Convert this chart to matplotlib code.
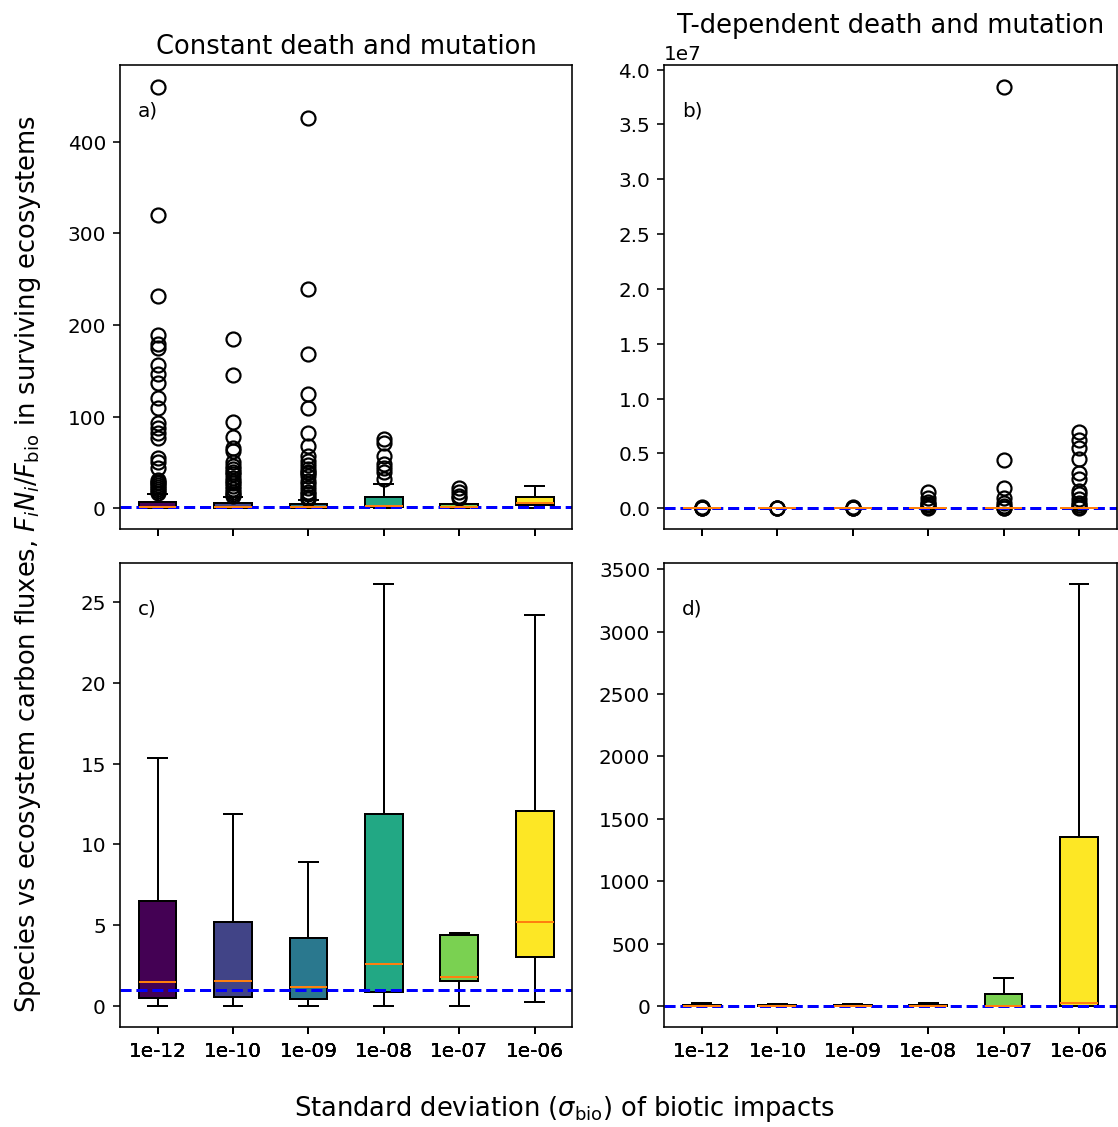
import numpy as np
import matplotlib
matplotlib.use("Agg")
import matplotlib.pyplot as plt

# x categories: standard deviation of biotic impacts
sigma_labels = ["1e-12", "1e-10", "1e-09", "1e-08", "1e-07", "1e-06"]

# constant death and mutation: box statistics
const_q1 = [0.5, 0.55, 0.43, 0.87, 1.55, 3.03]
const_med = [1.48, 1.55, 1.18, 2.6, 1.8, 5.2]
const_q3 = [6.5, 5.2, 4.2, 11.9, 4.4, 12.07]
const_lo = [0.0, 0.0, 0.02, 0.02, 0.0, 0.22]
const_hi = [15.35, 11.9, 8.9, 26.1, 4.5, 24.2]
const_fliers = [
    [460, 320, 231, 189, 179, 175, 156, 146, 137, 120, 109, 93, 88, 82, 77,
     55, 50, 44, 31, 29, 27, 25, 23, 21, 19, 17],
    [185, 145, 94, 78, 66, 62, 50, 46, 43, 40, 37, 33, 30, 27, 24, 21, 18,
     15, 13],
    [426, 239, 168, 125, 109, 82, 68, 57, 52, 47, 43, 40, 38, 35, 30, 26,
     22, 18, 15, 12, 10],
    [75, 71.5, 57, 48, 44, 39, 31.6],
    [22.5, 17.5, 13, 11],
    [],
]

# T-dependent death and mutation: box statistics
tdep_q1 = [0.0, 0.0, 0.0, 0.0, 0.0, 0.0]
tdep_med = [1.0, 0.8, 0.9, 1.2, 3.0, 20.0]
tdep_q3 = [8.0, 5.0, 6.0, 9.0, 96.0, 1350.0]
tdep_lo = [0.0, 0.0, 0.0, 0.0, 0.0, 0.0]
tdep_hi = [25.0, 15.0, 18.0, 27.0, 224.0, 3380.0]
tdep_fliers = [
    [5e3, 2e4, 5e4, 1e5],
    [5e3, 2e4, 6e4],
    [4e3, 1.5e4, 4e4, 8e4],
    [1.45e6, 9e5, 6e5, 4e5, 2.5e5, 1e5, 5e4],
    [3.845e7, 4.4e6, 1.8e6, 9.5e5, 5e5, 2e5, 5e4, 1e4],
    [6.95e6, 6.2e6, 5.5e6, 4.45e6, 3.25e6, 2.7e6, 1.6e6, 1.25e6, 8e5,
     5e5, 3e5, 1.5e5, 5e4],
]

colors = plt.cm.viridis(np.linspace(0, 1, len(sigma_labels)))


def make_stats(q1, med, q3, lo, hi, fliers, show):
    stats = []
    for i in range(len(sigma_labels)):
        stats.append({"q1": q1[i], "med": med[i], "q3": q3[i],
                      "whislo": lo[i], "whishi": hi[i],
                      "fliers": fliers[i] if show else [],
                      "label": sigma_labels[i]})
    return stats


def draw(ax, stats, label):
    bp = ax.bxp(stats, patch_artist=True, showfliers=True,
                flierprops=dict(markersize=7, markeredgewidth=1.1))
    for patch, c in zip(bp["boxes"], colors):
        patch.set_facecolor(c)
        patch.set_edgecolor("black")
    ax.axhline(1, color="blue", linestyle="--", linewidth=1.5)
    ax.text(0.04, 0.89, label, transform=ax.transAxes, fontsize=10)


fig, axes = plt.subplots(2, 2, figsize=(7.77, 7.83), dpi=144, sharex=True)

draw(axes[0, 0], make_stats(const_q1, const_med, const_q3, const_lo,
                            const_hi, const_fliers, True), "a)")
draw(axes[0, 1], make_stats(tdep_q1, tdep_med, tdep_q3, tdep_lo,
                            tdep_hi, tdep_fliers, True), "b)")
draw(axes[1, 0], make_stats(const_q1, const_med, const_q3, const_lo,
                            const_hi, const_fliers, False), "c)")
draw(axes[1, 1], make_stats(tdep_q1, tdep_med, tdep_q3, tdep_lo,
                            tdep_hi, tdep_fliers, False), "d)")

axes[0, 0].set_title("Constant death and mutation", fontsize=12.9)
axes[0, 1].set_title("T-dependent death and mutation", fontsize=12.9)

fig.subplots_adjust(left=0.1072, right=0.998, top=0.9415, bottom=0.0887,
                    wspace=0.203, hspace=0.073)
fig.supylabel(r"Species vs ecosystem carbon fluxes, $F_iN_i/F_{\rm bio}$ in surviving ecosystems",
              x=0.012, y=0.5, fontsize=12.9)
fig.supxlabel(r"Standard deviation ($\sigma_{\rm bio}$) of biotic impacts",
              x=0.505, y=0.003, fontsize=12.9)

fig.savefig("out.png", dpi=144)
